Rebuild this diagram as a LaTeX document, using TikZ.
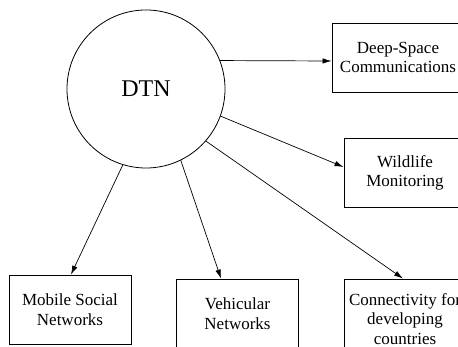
\documentclass[tikz,border=0pt]{standalone}
\usepackage{fontspec}
\setmainfont{Liberation Serif}
\usetikzlibrary{arrows.meta}
\begin{document}
\begin{tikzpicture}[x=1pt,y=-1pt,
  hub/.style={circle,draw,line width=0.8pt,minimum size=158pt,inner sep=0pt,
    font=\fontsize{24}{28}\selectfont},
  leaf/.style={rectangle,draw,line width=0.9pt,inner sep=0pt,align=center,
    minimum width=122pt,minimum height=69pt,font=\fontsize{17}{19.5}\selectfont},
  link/.style={line width=0.7pt,-{Latex[length=9pt,width=5.5pt]}}]
\useasboundingbox (0,0) rectangle (458,347);
\clip (0,0) rectangle (458,347);
% central concept
\node[hub] (dtn) at (146,89) {DTN};
% application areas
\node[leaf,minimum width=132pt] (deep) at (398,57.5) {Deep-Space\\Communications};
\node[leaf] (wild) at (405,173) {Wildlife\\Monitoring};
\node[leaf] (mob) at (70,309.5) {Mobile Social\\Networks};
\node[leaf] (veh) at (237.5,313.5) {Vehicular\\Networks};
\node[leaf,minimum height=80pt] (conn) at (405,319) {Connectivity for\\developing\\countries};
% links from the hub
\draw[link] (dtn.21) -- ([yshift=-3.5pt]deep.west);
\draw[link] (dtn.-20) -- ([yshift=6pt]wild.west);
\draw[link] (dtn.-41) -- ([xshift=-2pt]conn.north);
\draw[link] (dtn.-107) -- ([xshift=1pt]mob.north);
\draw[link] (dtn.-64) -- ([xshift=-16.5pt]veh.north);
\end{tikzpicture}
\end{document}
